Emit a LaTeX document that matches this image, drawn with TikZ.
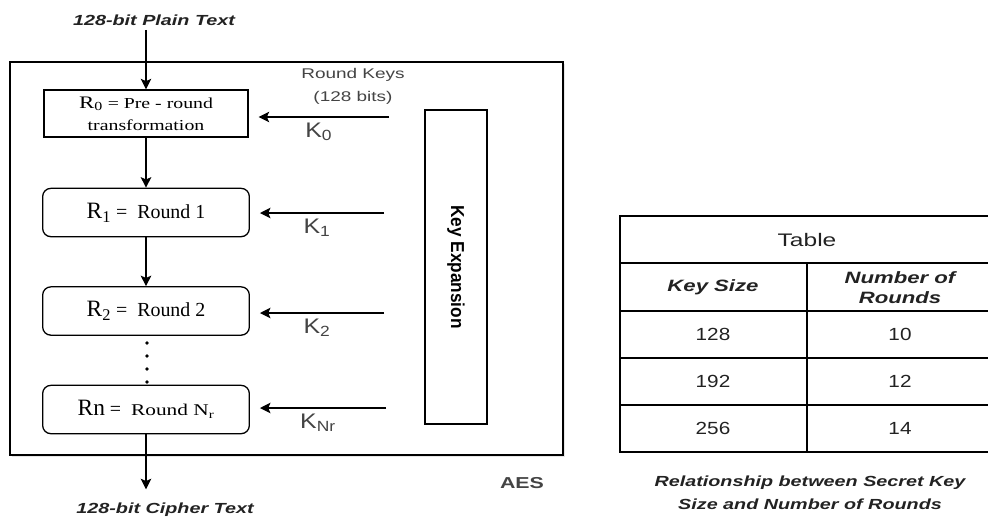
\documentclass[tikz,border=0pt]{standalone}
\usepackage{fontspec}
\setmainfont{Liberation Serif}
\setsansfont[FakeStretch=1.35]{Liberation Sans}
\newfontfamily\sfnarrow[FakeStretch=1.18]{Liberation Sans}
\newfontfamily\rmwide[FakeStretch=1.3]{Liberation Serif}
\newfontfamily\kefont[FakeStretch=0.92]{Liberation Sans}
\usetikzlibrary{arrows.meta,shadows}
\definecolor{ink}{HTML}{222222}
\definecolor{soft}{HTML}{444444}

\begin{document}
\begin{tikzpicture}[x=0.03cm,y=-0.03cm,>={Stealth[length=9pt,width=9pt,inset=2pt]},line width=1.1pt,
  rbox/.style={draw,rounded corners=7pt,minimum width=6.2cm,minimum height=1.45cm,inner sep=0pt,font=\fontsize{17}{19}\selectfont},
  io/.style={font=\sffamily\bfseries\itshape\fontsize{12.5}{14}\selectfont,text=ink},
  klab/.style={font=\sfnarrow\fontsize{18}{20}\selectfont,text=soft},
  cell/.style={font=\sfnarrow\fontsize{15}{17}\selectfont,text=ink},
  head/.style={font=\sffamily\bfseries\itshape\fontsize{14}{17}\selectfont,text=ink,align=center}]
\useasboundingbox (0,0) rectangle (988,518);
\node[draw,fill=white,minimum width=16.59cm,minimum height=11.79cm,drop shadow={opacity=.2,shadow xshift=2pt,shadow yshift=-2pt}] (aes) at (286.5,258.5) {};
\node[io] (plain) at (154,20) {128-bit Plain Text};
\node[draw,minimum width=6.12cm,minimum height=1.41cm,align=center,font=\rmwide\fontsize{13}{19}\selectfont] (r0) at (146,113.5) {{\fontsize{15}{17}\selectfont R\textsubscript{0}} = Pre - round\\transformation};
\node[rbox] (r1) at (146,212.5) {{\fontsize{20}{21}\selectfont R\textsubscript{1}} =\enspace Round 1};
\node[rbox] (r2) at (146,311) {{\fontsize{20}{21}\selectfont R\textsubscript{2}} =\enspace Round 2};
\node[rbox] (rn) at (146,409.5) {{\fontsize{20}{21}\selectfont Rn} =\enspace{\rmwide\fontsize{14}{16}\selectfont Round N\textsubscript{r}}};
\node[io] (cipher) at (165,510) {128-bit Cipher Text};
\foreach \y in {343,356,369,382} \fill (147,\y) circle (1.6pt);
\draw[->] (plain.south -| r0) -- (r0);
\draw[->] (r0) -- (r1);\draw[->] (r1) -- (r2);
\draw[->,shorten >=8pt] (rn) -- (rn |- cipher.north);
\node[font=\sffamily\fontsize{12}{19.6}\selectfont,text=soft,align=center] (rkeys) at (353,86) {Round Keys\\(128 bits)};
\node[draw,rotate=-90,minimum width=9.42cm,minimum height=1.86cm,font=\kefont\bfseries\fontsize{16}{18}\selectfont] (kexp) at (456,267) {Key Expansion};
\coordinate (k0) at (389,117);\coordinate (k1) at (384,213);\coordinate (k2) at (384,313);\coordinate (kn) at (386,408);
\draw[->,shorten >=0.3cm] (k0) -- (k0 -| r0.east) node[klab,midway,below=1pt] {K\textsubscript{0}};
\draw[->,shorten >=0.3cm] (k1) -- (k1 -| r1.east) node[klab,midway,below=1pt] {K\textsubscript{1}};
\draw[->,shorten >=0.3cm] (k2) -- (k2 -| r2.east) node[klab,midway,below=1pt] {K\textsubscript{2}};
\draw[->,shorten >=0.3cm] (kn) -- (kn -| rn.east) node[klab,midway,below=1pt] {K\textsubscript{Nr}};
\node[font=\sffamily\bfseries\fontsize{13.5}{15}\selectfont,text=soft] (aeslab) at (522,483) {AES};
\draw (620,216) rectangle (993,452);
\foreach \y in {263,311,358,405} \draw (620,\y) -- (993,\y);
\draw (807,263) -- (807,452);
\node[font=\sffamily\fontsize{15.5}{17}\selectfont,text=ink] (ttl) at (807,240) {Table};
\node[head] (hsize) at (713,287) {Key Size};
\node[head] (hrounds) at (900,288) {Number of\\Rounds};
\foreach \k/\r/\y in {128/10/334.5,192/12/381.5,256/14/428.5} {
  \node[cell] (ks\k) at (713,\y) {\k};
  \node[cell] (nr\k) at (900,\y) {\r};
}
\node[io,align=center,font=\sffamily\bfseries\itshape\fontsize{12.5}{19.6}\selectfont] (cap) at (810,493) {Relationship between Secret Key\\Size and Number of Rounds};
\end{tikzpicture}
\end{document}
